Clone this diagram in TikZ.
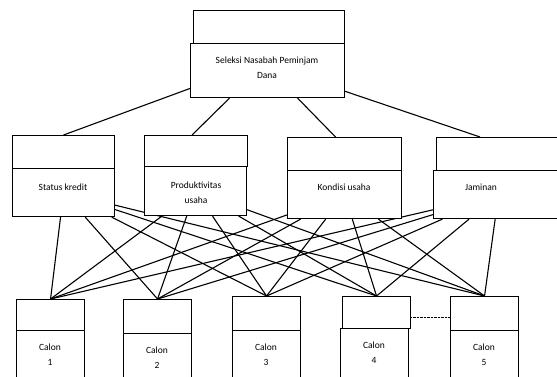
\documentclass[tikz,border=0pt]{standalone}
\usepackage{fontspec}
\setmainfont{Carlito}
\usetikzlibrary{backgrounds}

\tikzset{
  box/.style={draw,fill=white,line width=1.1pt,anchor=north west,inner sep=0pt},
  lbl/.style={font=\fontsize{9.5pt}{15pt}\selectfont,align=center,inner sep=0pt},
  link/.style={line width=1.1pt}
}

\begin{document}
\begin{tikzpicture}[x=1pt,y=-1pt]
        \useasboundingbox(0,0)rectangle(557,377);
        \clip(0,0)rectangle(557,377);

        % tujuan
        \node[box,minimum width=151pt,minimum height=33pt](goalh)at(193,10){};
        \node[box,minimum width=154pt,minimum height=54pt](goal)at(190,43){};
        \node[lbl](goalt)at(267,68){Seleksi Nasabah Peminjam\\Dana};

        % kriteria
        \node[box,minimum width=102pt,minimum height=33pt](statush)at(12,135){};
        \node[box,minimum width=102pt,minimum height=48pt](status)at(12,168){};
        \node[lbl](statust)at(63,187){Status kredit};

        \node[box,minimum width=103pt,minimum height=31pt](produkh)at(144,135){};
        \node[box,minimum width=102pt,minimum height=49pt](produk)at(144,166){};
        \node[lbl](produkt)at(196,193){Produktivitas\\usaha};

        \node[box,minimum width=114pt,minimum height=33pt](kondisih)at(287,137){};
        \node[box,minimum width=114pt,minimum height=48pt](kondisi)at(287,170){};
        \node[lbl](kondisit)at(344,187){Kondisi usaha};

        \node[box,minimum width=125pt,minimum height=33pt](jaminanh)at(436,137){};
        \node[box,minimum width=130pt,minimum height=48pt](jaminan)at(433,170){};
        \node[lbl](jaminant)at(481,187){Jaminan};

        % alternatif
        \foreach \i/\xa/\ya/\xb/\yb in {1/16/299/16/330,2/123/299/123/333,3/232/296/232/330,4/342/296/340/328,5/450/296/450/330}{
            \node[box,minimum width=68pt,minimum height={(\yb-\ya)*1pt}](ch\i)at(\xa,\ya){};
            \node[box,minimum width=68pt,minimum height=60pt](c\i)at(\xb,\yb){};
            \node[lbl](ct\i)at({\xb+34},{\yb+25}){Calon\\\i};
        }
        \draw[densely dotted,thin]([yshift=-5pt]ch4.east)--([yshift=-4pt]ch5.west);

        \begin{scope}[on background layer]
            \draw[link](goal.193)--(statush.north);
            \draw[link]([xshift=-38pt]goal.south)--([xshift=-4pt]produkh.north);
            \draw[link]([xshift=30pt]goal.south)--([xshift=-9pt]kondisih.north);
            \draw[link](goal.-15)--([xshift=-19pt]jaminanh.north);
            \foreach \k in {status,produk,kondisi,jaminan}
                \foreach \i in {1,...,5}
                    \draw[link](\k)--(ch\i.north);
        \end{scope}
    \end{tikzpicture}
\end{document}
